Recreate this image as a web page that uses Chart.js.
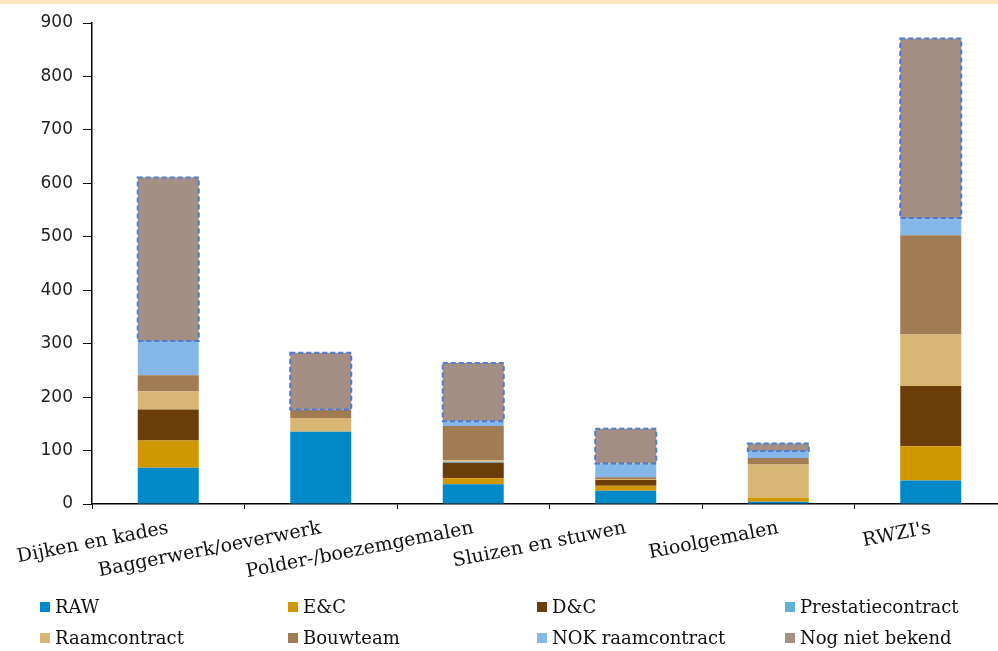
<!DOCTYPE html>
<html lang="nl">
<head>
  <meta charset="UTF-8">
  <title>Contractvormen per categorie</title>
  <style>
    body { margin: 0; background: #fff; }
    #wrap { position: relative; width: 998px; height: 651px; overflow: hidden; }
    #chart { position: absolute; left: 0; top: 0; }
    #band { position: absolute; left: 0; top: 0; width: 998px; height: 4px; background: #fce6bd; }
    #legend { position: absolute; left: 40px; top: 594px; width: 960px; display: grid; grid-template-columns: 248px 249px 248px 215px; row-gap: 6px; font-family: "DejaVu Serif", serif; font-size: 18px; color: #111; }
    #legend div { display: flex; align-items: center; height: 25px; white-space: nowrap; }
    #legend span.box { display: inline-block; width: 10px; height: 10px; margin-right: 5px; }
  </style>
</head>
<body>
  <div id="wrap">
    <canvas id="chart" width="1010" height="651"></canvas>
    <div id="band"></div>
    <div id="legend"></div>
  </div>

  <script src="https://cdn.jsdelivr.net/npm/chart.js"></script>
  <script>
    const categories = ['Dijken en kades', 'Baggerwerk/oeverwerk', 'Polder-/boezemgemalen', 'Sluizen en stuwen', 'Rioolgemalen', "RWZI's"];
    const seriesNames = ['RAW', 'E&C', 'D&C', 'Prestatiecontract', 'Raamcontract', 'Bouwteam', 'NOK raamcontract', 'Nog niet bekend'];
    const raw         = [68, 135, 37, 25, 4, 44];
    const ec          = [51, 0, 11, 9, 8, 64];
    const dc          = [58, 0, 29, 11, 0, 113];
    const prestatie   = [0, 0, 2, 0, 0, 0];
    const raamcontr   = [34, 26, 3, 2, 62, 96];
    const bouwteam    = [30, 16, 64, 3, 12, 186];
    const nokRaam     = [64, 0, 9, 26, 13, 32];
    const nogNiet     = [306, 106, 109, 65, 14, 336];
    const yTicks      = [0, 100, 200, 300, 400, 500, 600, 700, 800, 900];

    const colors = ['#0089c8', '#d09700', '#6a3d0a', '#5fb3d5', '#d8b673', '#a07b53', '#85b8e8', '#a48f84'];
    const values = [raw, ec, dc, prestatie, raamcontr, bouwteam, nokRaam, nogNiet];

    // dashed outline around the "Nog niet bekend" segments
    const dashedOutline = {
      id: 'dashedOutline',
      afterDatasetsDraw(chart) {
        const meta = chart.getDatasetMeta(7);
        const ctx = chart.ctx;
        ctx.save();
        ctx.strokeStyle = '#4f7bd1';
        ctx.lineWidth = 2;
        ctx.setLineDash([5, 3]);
        meta.data.forEach(bar => {
          const p = bar.getProps(['x', 'y', 'base', 'width'], true);
          if (Math.abs(p.base - p.y) < 0.5) return;
          ctx.strokeRect(p.x - p.width / 2, p.y, p.width, p.base - p.y);
        });
        ctx.restore();
      }
    };

    new Chart(document.getElementById('chart'), {
      type: 'bar',
      data: {
        labels: categories,
        datasets: seriesNames.map((name, i) => ({
          label: name,
          data: values[i],
          backgroundColor: colors[i],
          borderWidth: 0,
          categoryPercentage: 1,
          barPercentage: 0.4
        }))
      },
      options: {
        responsive: false,
        animation: false,
        layout: { padding: { top: 23, right: 3, bottom: 0, left: 0 } },
        plugins: { legend: { display: false }, tooltip: { enabled: false } },
        scales: {
          x: {
            stacked: true,
            afterFit(scale) { scale.height = 147; },
            border: { color: '#000', width: 1.5 },
            grid: { offset: true, drawOnChartArea: false, tickLength: 5, color: '#000' },
            ticks: {
              minRotation: 11, maxRotation: 11, padding: 8,
              color: '#111',
              font: { family: 'DejaVu Serif', size: 19 }
            }
          },
          y: {
            stacked: true,
            min: 0, max: 900,
            afterFit(scale) { scale.width = 92; },
            afterBuildTicks(scale) { scale.ticks = yTicks.map(v => ({ value: v })); },
            border: { color: '#000', width: 1.5 },
            grid: { drawOnChartArea: false, tickLength: 9, color: '#000' },
            ticks: {
              padding: 10,
              color: '#222',
              font: { family: 'DejaVu Sans', size: 17 }
            }
          }
        }
      },
      plugins: [dashedOutline]
    });

    const legendEl = document.getElementById('legend');
    seriesNames.forEach((name, i) => {
      const item = document.createElement('div');
      const box = document.createElement('span');
      box.className = 'box';
      box.style.background = colors[i];
      item.appendChild(box);
      item.appendChild(document.createTextNode(name));
      legendEl.appendChild(item);
    });
  </script>
</body>
</html>
